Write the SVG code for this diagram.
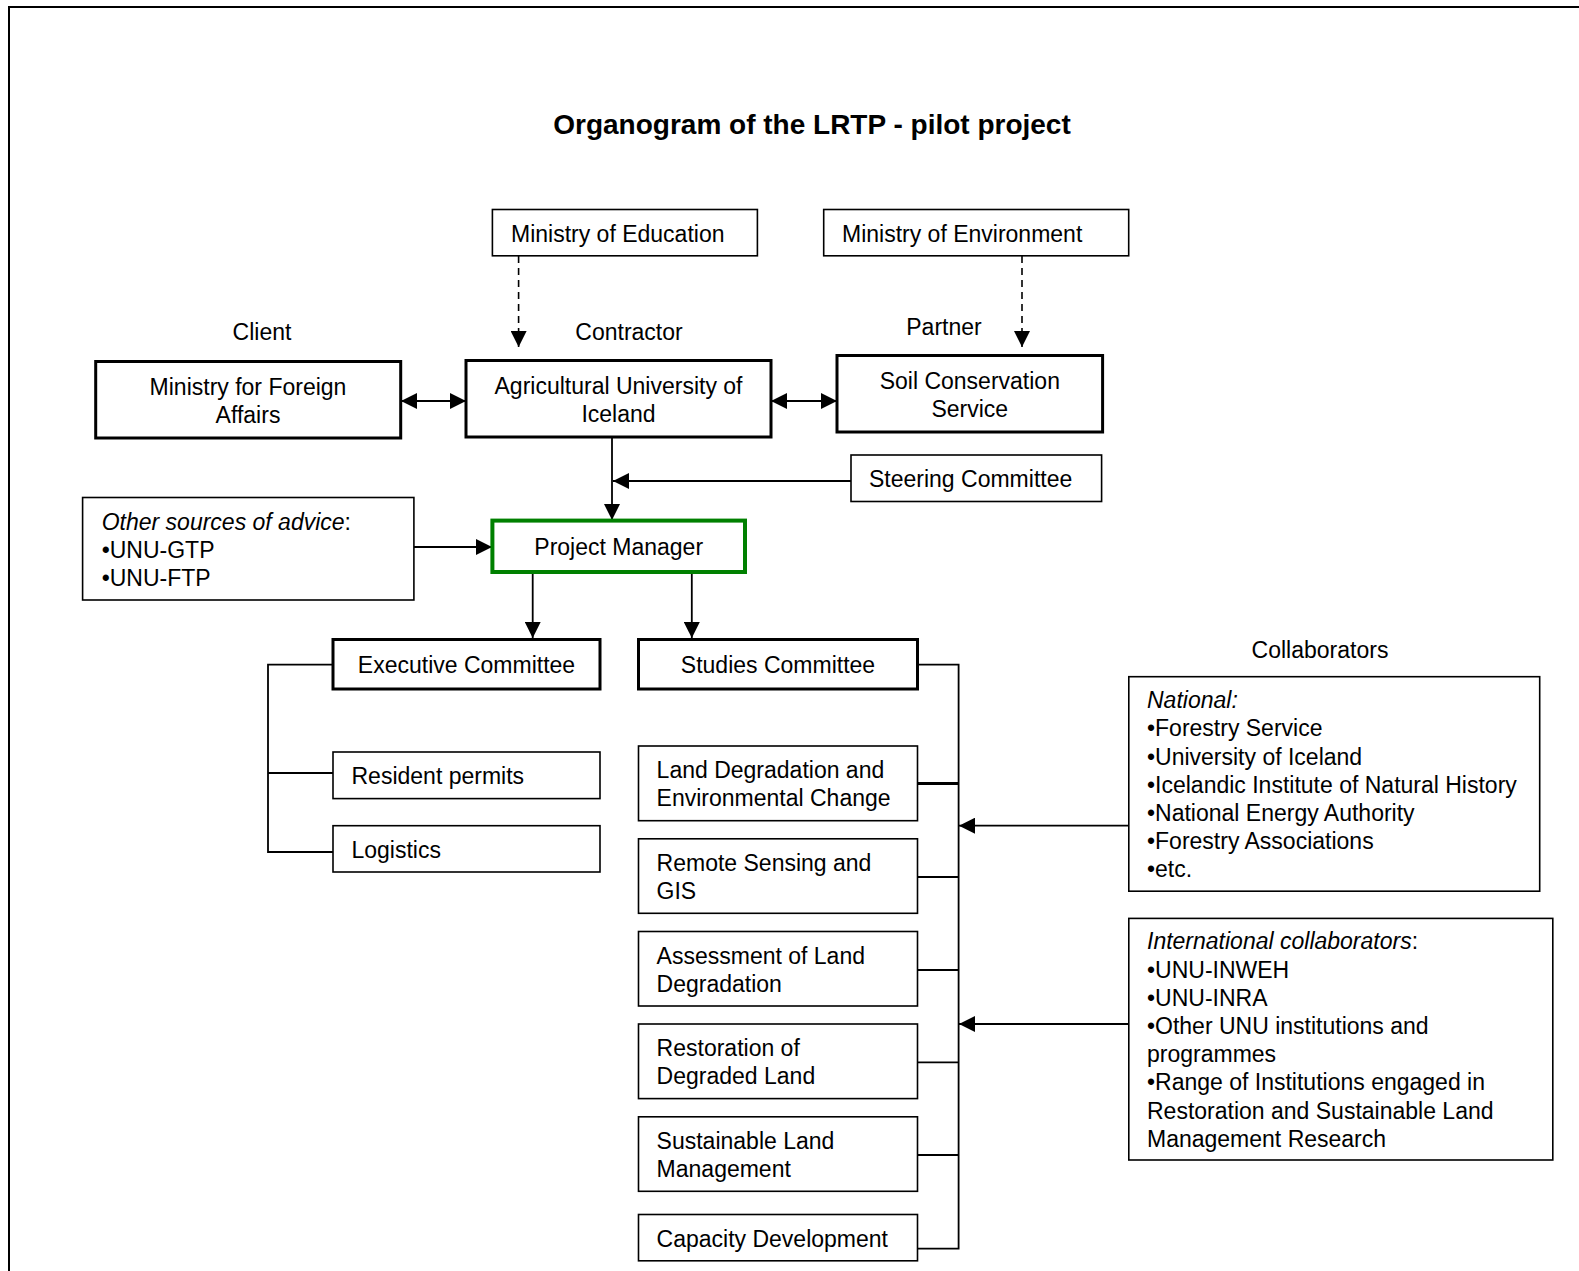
<svg xmlns="http://www.w3.org/2000/svg" width="1579" height="1271" viewBox="0 0 1579 1271">
<style>
text{font-family:"Liberation Sans",Arial,sans-serif;font-size:23px;fill:#000}
.title{font-size:28px;font-weight:bold}
.c{text-anchor:middle}
.thin{fill:#fff;stroke:#000;stroke-width:1.6}
.thick{fill:#fff;stroke:#000;stroke-width:3}
.green{fill:#fff;stroke:#008000;stroke-width:4}
.ln{fill:none;stroke:#000;stroke-width:1.8}
.ln3{fill:none;stroke:#000;stroke-width:3}
.dash{fill:none;stroke:#000;stroke-width:1.6;stroke-dasharray:7 5}
.it{font-style:italic}
</style>
<defs>
<marker id="ah" markerUnits="userSpaceOnUse" markerWidth="16" markerHeight="16" refX="16" refY="8" orient="auto-start-reverse">
<path d="M0,0 L16,8 L0,16 z" fill="#000"/>
</marker>
</defs>
<rect width="1579" height="1271" fill="#fff"/>
<path d="M9,1271 V7 H1579" fill="none" stroke="#000" stroke-width="2"/>
<text class="title c" x="812" y="133.5">Organogram of the LRTP - pilot project</text>
<text class="c" x="262" y="340">Client</text>
<text class="c" x="629" y="340">Contractor</text>
<text class="c" x="944" y="335">Partner</text>
<text class="c" x="1320" y="658">Collaborators</text>

<g id="connectors">
<path class="dash" d="M518.6,256 V347" marker-end="url(#ah)"/>
<path class="dash" d="M1022,256 V347" marker-end="url(#ah)"/>
<path class="ln" d="M401,401 H466" marker-start="url(#ah)" marker-end="url(#ah)"/>
<path class="ln" d="M771,401 H837" marker-start="url(#ah)" marker-end="url(#ah)"/>
<path class="ln" d="M612,437 V520" marker-end="url(#ah)"/>
<path class="ln" d="M851,481 H613" marker-end="url(#ah)"/>
<path class="ln" d="M414,547 H492" marker-end="url(#ah)"/>
<path class="ln" d="M532.7,572 V638" marker-end="url(#ah)"/>
<path class="ln" d="M691.8,572 V638" marker-end="url(#ah)"/>
<path class="ln" d="M333,664.6 H268 V852 H333 M268,773 H333"/>
<path class="ln" d="M917.4,664.6 H958.6 V1248.7 H917.4 M917.4,877 H958.6 M917.4,970 H958.6 M917.4,1062.4 H958.6 M917.4,1155 H958.6"/>
<path class="ln3" d="M917.4,783.4 H958.6"/>
<path class="ln" d="M1128.8,825.7 H959" marker-end="url(#ah)"/>
<path class="ln" d="M1128.8,1024 H959" marker-end="url(#ah)"/>
</g>

<g id="ministry-education"><rect class="thin" x="492.4" y="209.5" width="265" height="46.3"/><text x="511" y="242">Ministry of Education</text></g>
<g id="ministry-environment"><rect class="thin" x="823.7" y="209.5" width="305" height="46.3"/><text x="842" y="242">Ministry of Environment</text></g>
<g id="ministry-foreign"><rect class="thick" x="95.7" y="361.5" width="305" height="76.5"/><text class="c" x="248" y="395">Ministry for Foreign</text><text class="c" x="248" y="423">Affairs</text></g>
<g id="agri-university"><rect class="thick" x="466" y="360.5" width="305" height="76.5"/><text class="c" x="618.5" y="394">Agricultural University of</text><text class="c" x="618.5" y="422">Iceland</text></g>
<g id="soil-conservation"><rect class="thick" x="837" y="355.5" width="265.6" height="76.5"/><text class="c" x="969.8" y="389">Soil Conservation</text><text class="c" x="969.8" y="417">Service</text></g>
<g id="steering"><rect class="thin" x="851" y="455" width="250.6" height="46.5"/><text x="869" y="487">Steering Committee</text></g>
<g id="other-sources"><rect class="thin" x="82.6" y="497.5" width="331.3" height="102.5"/><text x="101.7" y="529.5"><tspan class="it">Other sources of advice</tspan>:</text><text x="101.7" y="557.5">•UNU-GTP</text><text x="101.7" y="585.5">•UNU-FTP</text></g>
<g id="project-manager"><rect class="green" x="492.4" y="520.6" width="252.6" height="51.4"/><text class="c" x="618.7" y="555">Project Manager</text></g>
<g id="executive-committee"><rect class="thick" x="333" y="639.5" width="267" height="49.5"/><text class="c" x="466.5" y="673">Executive Committee</text></g>
<g id="studies-committee"><rect class="thick" x="638.5" y="639.5" width="279" height="49.5"/><text class="c" x="778" y="673">Studies Committee</text></g>
<g id="resident-permits"><rect class="thin" x="333" y="752" width="267" height="46.6"/><text x="351.5" y="784">Resident permits</text></g>
<g id="logistics"><rect class="thin" x="333" y="825.7" width="267" height="46.3"/><text x="351.5" y="858">Logistics</text></g>
<g id="land-degradation"><rect class="thin" x="638.5" y="746" width="279" height="74.7"/><text x="656.6" y="778.2">Land Degradation and</text><text x="656.6" y="806.2">Environmental Change</text></g>
<g id="remote-sensing"><rect class="thin" x="638.5" y="838.8" width="279" height="74.5"/><text x="656.6" y="870.8">Remote Sensing and</text><text x="656.6" y="898.8">GIS</text></g>
<g id="assessment"><rect class="thin" x="638.5" y="931.5" width="279" height="74.5"/><text x="656.6" y="963.6">Assessment of Land</text><text x="656.6" y="991.6">Degradation</text></g>
<g id="restoration"><rect class="thin" x="638.5" y="1024" width="279" height="74.6"/><text x="656.6" y="1056.1">Restoration of</text><text x="656.6" y="1084.1">Degraded Land</text></g>
<g id="sustainable"><rect class="thin" x="638.5" y="1116.8" width="279" height="74.5"/><text x="656.6" y="1148.8">Sustainable Land</text><text x="656.6" y="1176.8">Management</text></g>
<g id="capacity"><rect class="thin" x="638.5" y="1214.5" width="279" height="46.3"/><text x="656.6" y="1246.5">Capacity Development</text></g>
<g id="national"><rect class="thin" x="1128.8" y="676.7" width="410.9" height="214.5"/>
<text x="1147" y="708.2" class="it">National:</text>
<text x="1147" y="736.4">•Forestry Service</text>
<text x="1147" y="764.6">•University of Iceland</text>
<text x="1147" y="792.8">•Icelandic Institute of Natural History</text>
<text x="1147" y="821">•National Energy Authority</text>
<text x="1147" y="849.2">•Forestry Associations</text>
<text x="1147" y="877.4">•etc.</text></g>
<g id="international"><rect class="thin" x="1128.8" y="918.4" width="424" height="241.6"/>
<text x="1147" y="949.3"><tspan class="it">International collaborators</tspan>:</text>
<text x="1147" y="977.5">•UNU-INWEH</text>
<text x="1147" y="1005.7">•UNU-INRA</text>
<text x="1147" y="1033.9">•Other UNU institutions and</text>
<text x="1147" y="1062.1">programmes</text>
<text x="1147" y="1090.3">•Range of Institutions engaged in</text>
<text x="1147" y="1118.5">Restoration and Sustainable Land</text>
<text x="1147" y="1146.7">Management Research</text></g>
</svg>
